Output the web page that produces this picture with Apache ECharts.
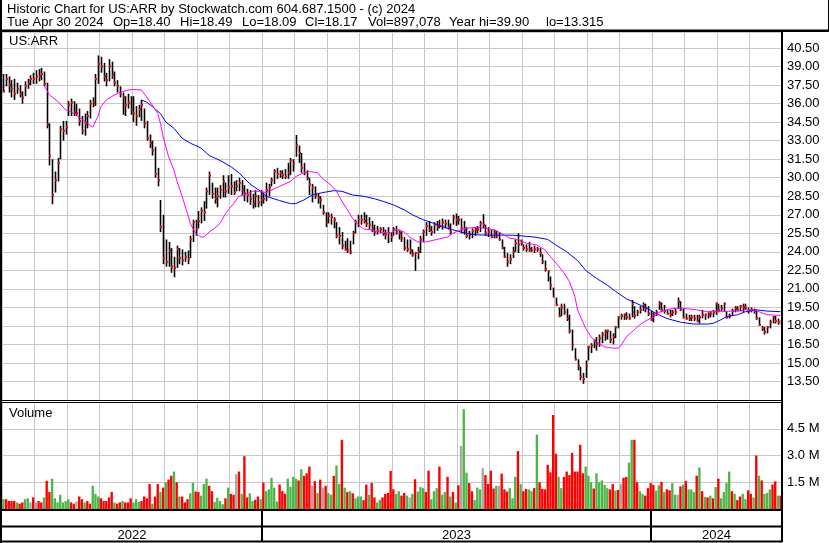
<!DOCTYPE html>
<html>
<head>
<meta charset="utf-8">
<title>US:ARR historic chart</title>
<script src="https://cdn.jsdelivr.net/npm/echarts@6.0.0/dist/echarts.min.js"></script>
<style>
  html, body { margin: 0; padding: 0; background: #fff; }
  #chart { width: 830px; height: 543px; }
</style>
</head>
<body>
<div id="chart"></div>
<script>
// one category per ~2 trading days, 12 per month
const months = ['2022-05','2022-06','2022-07','2022-08','2022-09','2022-10','2022-11','2022-12',
  '2023-01','2023-02','2023-03','2023-04','2023-05','2023-06','2023-07','2023-08','2023-09','2023-10',
  '2023-11','2023-12','2024-01','2024-02','2024-03','2024-04']
const perMonth = 12
const years = ['2022', '2023', '2024']

const high = [
  38.4,38.4,38.2,37.9,38.0,37.7,37.5,37.0,37.8,38.0,38.3,38.5,
  38.7,38.8,38.9,38.6,37.7,34.4,31.5,30.5,31.6,34.2,34.6,34.6,
  36.2,36.4,36.2,36.0,35.6,35.0,35.2,35.4,36.3,36.5,38.4,39.9,
  39.8,39.3,38.5,39.6,39.4,38.6,37.9,37.4,36.9,36.6,36.8,36.6,
  36.6,35.8,35.9,36.3,35.6,34.6,33.5,33.0,32.5,30.8,28.2,27.0,
  25.0,24.8,24.3,23.6,24.5,24.3,24.2,24.0,24.1,25.3,26.6,26.6,
  27.3,27.6,28.1,29.2,30.5,29.6,29.2,29.2,29.4,30.2,29.6,30.2,
  30.3,29.7,29.8,30.0,29.8,29.4,29.1,29.0,28.7,29.0,28.6,29.0,
  28.8,29.6,29.5,30.0,30.7,30.8,30.6,30.6,30.7,31.2,31.6,31.5,
  33.46,32.6,32.0,31.2,30.6,30.0,29.5,29.3,28.7,28.5,27.8,27.2,
  27.2,27.1,26.8,26.4,26.0,25.6,24.9,25.1,24.9,25.7,26.6,27.0,
  27.0,27.2,27.0,26.8,26.5,26.2,26.1,26.0,26.0,25.8,26.0,25.6,
  26.0,26.1,25.8,25.7,25.2,25.0,25.0,24.2,24.0,24.4,25.3,25.8,
  26.4,26.5,26.1,26.4,26.5,26.6,26.7,26.6,26.6,26.3,27.0,27.1,
  26.9,26.7,26.5,26.0,25.7,25.9,26.0,26.1,26.5,27.05,26.2,26.0,
  25.8,25.8,25.7,25.6,25.0,24.4,23.9,23.8,24.4,25.0,25.5,25.0,
  24.6,24.6,24.8,24.4,24.5,24.4,24.3,23.8,23.3,22.5,22.0,21.1,
  20.3,19.5,19.8,19.8,19.4,18.9,17.7,16.2,15.3,14.7,14.2,15.2,
  16.4,16.6,16.9,17.1,17.3,17.5,17.7,17.7,17.6,17.4,18.0,18.8,
  19.0,19.0,19.1,19.0,20.1,19.6,19.3,19.6,19.9,19.8,19.6,19.2,
  19.1,19.3,20.0,19.9,19.7,19.3,19.3,19.3,19.4,20.3,20.0,19.4,
  19.0,18.9,18.9,18.9,18.9,18.9,19.3,19.0,19.1,19.2,19.3,19.9,
  19.8,19.7,19.9,19.2,19.0,19.4,19.6,19.6,19.7,19.8,19.8,19.5,
  19.5,19.4,19.3,18.7,18.0,17.9,18.0,18.5,18.8,18.8,18.6,18.49
]
const low = [
  36.9,37.4,36.9,36.5,36.3,36.8,36.5,36.0,36.6,37.2,37.5,37.6,
  37.6,37.8,37.9,37.4,34.0,31.0,27.85,28.8,29.7,31.5,33.0,33.5,
  35.0,35.0,35.0,35.0,34.2,33.5,33.4,34.0,34.8,35.7,35.8,37.6,
  38.5,37.8,37.4,37.8,38.0,37.4,36.9,36.5,35.1,35.0,35.6,35.1,
  34.5,34.2,34.9,34.6,34.0,33.0,32.4,31.8,30.0,29.3,25.6,23.0,
  22.8,22.8,22.3,21.94,22.7,23.0,22.9,23.2,23.0,23.5,24.8,25.3,
  25.9,26.3,26.5,27.5,28.6,28.3,27.9,27.6,28.3,28.4,28.4,28.7,
  28.6,28.6,28.9,28.9,28.6,28.1,28.0,27.8,27.5,27.6,27.6,27.7,
  27.9,28.1,28.5,29.3,29.5,29.9,30.0,29.9,29.9,29.9,30.2,30.5,
  31.7,31.2,30.4,30.2,29.8,28.6,28.0,28.3,27.9,27.5,27.0,26.0,
  26.3,26.2,25.9,25.1,24.6,24.2,24.1,23.9,23.8,24.6,25.5,26.0,
  26.2,26.3,26.0,25.8,25.6,25.3,25.4,25.5,25.3,25.0,24.7,24.8,
  25.3,25.4,25.0,24.8,24.1,24.0,23.8,23.6,22.46,23.4,23.9,24.8,
  25.3,25.6,25.3,25.5,25.7,25.9,25.8,25.9,25.8,25.4,26.2,26.1,
  26.2,25.5,25.4,25.1,25.0,25.1,25.3,25.5,25.6,25.9,25.3,25.2,
  25.1,25.1,25.1,24.9,24.2,23.5,22.8,23.0,23.5,24.0,23.9,24.5,
  24.1,24.0,24.0,24.0,23.9,24.0,23.6,23.0,22.4,21.6,20.9,20.3,
  19.6,18.7,18.8,18.9,18.4,17.4,16.0,15.2,14.4,13.6,13.315,13.8,
  15.2,15.8,16.2,16.0,16.3,16.6,16.8,16.9,16.6,16.5,17.0,17.8,
  18.5,18.5,18.5,18.5,18.7,18.6,18.8,19.0,19.2,19.1,18.8,18.4,
  18.3,18.8,19.3,19.1,19.0,18.9,18.7,18.8,18.9,19.4,19.2,18.6,
  18.5,18.4,18.4,18.4,18.3,18.2,18.6,18.5,18.6,18.7,18.7,18.9,
  19.1,19.2,19.2,18.6,18.6,18.8,19.1,19.2,19.2,19.1,19.3,19.0,
  19.1,19.0,18.5,18.0,17.6,17.3,17.4,17.8,18.2,18.2,18.1,18.09
]
const close = [
  37.0,38.0,37.5,37.2,36.8,37.2,36.8,36.5,37.4,37.6,38.0,38.0,
  38.2,38.2,38.4,37.6,34.3,31.8,28.6,29.8,31.2,33.9,33.8,34.1,
  35.9,36.1,35.3,35.2,34.6,33.8,34.4,35.0,36.0,36.1,38.0,39.2,
  39.0,38.2,37.9,39.0,38.3,37.7,37.4,36.8,36.5,35.9,36.1,35.5,
  35.2,35.0,35.5,35.9,34.4,33.2,32.8,32.2,30.3,29.8,26.0,23.5,
  23.2,24.1,22.8,22.7,24.2,23.5,23.3,23.6,23.4,25.0,26.4,25.8,
  26.5,27.3,27.2,28.9,30.2,28.7,28.3,28.5,29.0,29.7,28.9,29.2,
  29.3,28.8,29.3,29.6,29.0,28.7,28.6,28.3,27.9,28.5,28.0,28.2,
  28.3,29.0,29.2,29.8,30.5,30.3,30.4,30.2,30.1,30.4,31.4,31.1,
  32.6,32.0,30.8,30.4,30.0,29.5,29.2,28.6,28.4,28.2,27.2,26.4,
  26.9,26.8,26.6,25.3,25.3,24.5,24.2,24.1,24.0,25.5,26.4,26.6,
  26.6,26.5,26.3,26.2,25.9,25.6,25.7,25.8,25.5,25.4,25.5,25.2,
  25.8,25.6,25.5,25.1,24.3,24.2,24.1,23.8,23.9,24.0,25.0,25.6,
  26.1,25.8,25.6,26.2,26.0,26.1,26.4,26.3,26.0,25.6,26.8,26.6,
  26.6,25.9,25.8,25.3,25.4,25.7,25.8,25.8,26.3,26.2,25.5,25.6,
  25.2,25.5,25.3,25.0,24.3,23.6,23.2,23.4,24.0,24.7,24.6,24.7,
  24.3,24.2,24.2,24.1,24.2,24.2,23.9,23.2,22.6,22.4,21.3,20.4,
  19.7,18.8,19.5,19.1,18.6,17.6,16.5,15.3,14.8,13.9,13.7,14.8,
  16.3,16.4,16.8,16.5,17.0,17.3,17.5,17.6,16.9,17.1,17.9,18.7,
  18.8,18.9,18.7,18.6,19.8,18.8,19.1,19.3,19.7,19.4,19.0,18.5,
  18.9,19.1,19.8,19.3,19.2,19.0,18.9,19.1,19.1,20.0,19.3,18.7,
  18.6,18.6,18.7,18.6,18.4,18.7,18.9,18.9,18.9,19.0,19.1,19.8,
  19.3,19.4,19.8,18.7,18.8,19.2,19.4,19.3,19.6,19.5,19.5,19.2,
  19.3,19.2,18.6,18.1,17.8,17.5,17.9,18.3,18.7,18.4,18.3,18.17
]

// volume in millions, u = up day (green), d = down day (red), n = unchanged (grey)
const volume = [
  0.55,0.55,0.45,0.45,0.45,0.37,0.3,0.37,0.55,0.6,0.37,0.65,
  0.37,0.45,0.37,0.65,1.58,0.95,1.7,0.6,0.37,0.8,0.37,0.45,
  0.55,0.37,0.3,0.42,0.7,0.55,0.37,0.45,0.3,1.3,0.85,0.7,
  0.6,0.45,0.45,0.65,0.95,0.37,0.3,0.37,0.45,0.37,0.37,0.6,
  0.37,0.55,0.4,0.45,0.7,0.6,1.4,0.3,0.7,1.4,0.95,1.2,
  1.5,1.65,1.86,2.1,1.5,0.7,0.7,0.37,0.55,0.88,1.46,0.98,
  0.95,0.75,1.4,1.7,1.3,1.0,0.4,0.63,0.45,0.27,0.6,1.2,
  0.85,0.8,1.95,2.1,0.85,2.96,0.65,0.88,0.45,0.52,0.7,0.55,
  1.48,1.0,1.1,1.75,1.2,0.42,1.37,1.0,0.85,1.7,1.25,1.8,
  1.7,1.6,2.23,1.86,2.0,2.38,1.3,1.56,0.9,1.65,1.2,1.3,
  0.9,0.8,1.86,2.44,1.4,3.88,1.2,0.95,1.0,0.88,0.6,0.7,
  0.7,0.5,1.37,0.8,1.46,0.65,0.37,0.52,0.65,0.85,0.9,2.13,
  1.1,0.85,1.0,0.75,0.9,0.75,0.65,0.85,1.67,0.98,1.23,1.17,
  0.95,2.15,0.55,1.0,1.17,2.38,0.8,0.95,1.8,0.7,0.95,0.37,
  1.33,3.54,5.6,2.04,1.45,1.0,0.5,1.2,1.1,2.29,1.9,1.4,
  2.15,1.15,1.3,1.3,1.98,1.1,0.98,1.17,0.6,1.8,3.25,1.4,
  1.0,1.13,1.1,1.0,1.17,4.17,1.5,1.13,1.1,2.48,2.06,5.27,
  3.1,1.8,1.17,1.8,2.1,1.9,3.15,2.1,2.1,3.6,2.0,2.38,
  1.87,1.5,1.15,2.0,1.5,1.6,1.35,1.17,1.1,1.4,1.03,1.07,
  1.4,1.75,1.8,2.6,3.88,3.88,1.5,1.0,0.85,0.75,1.17,1.45,
  1.35,1.03,1.33,1.52,0.95,1.1,1.05,1.45,0.8,0.8,1.27,1.37,
  1.58,1.1,1.1,0.95,1.87,2.33,1.0,0.68,0.65,0.75,0.6,1.23,
  1.7,0.6,0.95,1.47,2.1,1.0,0.85,0.5,0.7,0.85,0.56,1.05,
  0.85,0.65,3.0,1.87,1.6,0.85,0.9,1.1,1.37,1.55,0.75,0.75
]
const volDir = (
  'uddddudduund' + 'nddudduuuuuu' + 'uddnddudduuu' + 'dddddudduddd' +
  'uuuddddudd' + 'ud' + 'uddududdduud' + 'duuudduuuudu' + 'ddndudduuddu' +
  'duuuuuddduuu' + 'ududddndudnd' + 'uuduudududuu' + 'uddudduudddd' +
  'duuddunuduuu' + 'dduuuduududu' + 'dnuudduuundd' + 'ddunddduuudu' +
  'dduududddddd' + 'duuddddddddu' + 'uuduuuuuddud' + 'ndduudduuddd' +
  'duududduundu' + 'duuududududu' + 'duuuududduud' + 'dududuuuddud'
).split('')

// moving averages: [bar index, value]
const maShort = [
  [15,37.5],[17,36.7],[20,36.2],[23,35.5],[25,35.35],[28,34.9],[31,34.4],[33,34.1],[35,35.0],[36,35.75],
  [38,36.3],[41,36.7],[43,36.9],[46,37.1],[48,37.15],[51,37.1],[52,36.8],[54,36.2],[57,35.2],[58,34.4],
  [59,33.3],[60,32.5],[61,31.7],[63,30.6],[64,29.8],[66,28.5],[68,27.1],[69,26.3],[71,25.5],[73,25.2],
  [74,25.2],[76,25.6],[78,25.9],[80,26.3],[82,27.1],[85,27.9],[87,28.5],[90,28.7],[92,28.9],[95,28.9],
  [97,28.8],[100,29.1],[102,29.3],[106,29.7],[108,30.1],[111,30.4],[113,30.5],[116,30.4],[118,29.9],[121,29.4],
  [123,28.9],[125,28.1],[127,27.4],[129,26.7],[131,26.2],[133,25.85],[135,25.8],[139,25.6],[143,25.5],[145,25.8],
  [148,25.6],[150,25.2],[153,24.8],[156,24.8],[160,25.0],[164,25.2],[166,25.5],[169,25.8],[171,25.9],[175,26.0],
  [178,25.9],[181,25.8],[183,25.6],[187,25.1],[190,25.0],[193,24.7],[197,24.55],[200,24.15],[202,23.6],[204,23.1],
  [207,22.3],[209,21.6],[211,20.4],[212,19.3],[214,18.3],[215,17.8],[217,17.1],[219,16.7],[222,16.3],[225,16.2],
  [227,16.2],[228,16.4],[230,17.1],[233,17.7],[235,18.1],[238,18.5],[240,18.7],[242,19.1],[245,19.3],[247,19.4],
  [250,19.45],[252,19.4],[256,19.3],[260,19.15],[262,19.2],[265,19.15],[269,19.2],[272,19.2],[274,19.3],[277,19.3],
  [279,19.15],[282,18.9],[284,18.88],[287,18.85]
]
const maLong = [
  [51,36.3],[53,36.1],[55,35.75],[58,35.2],[60,34.5],[63,34.0],[66,33.2],[69,32.8],[73,32.4],[76,31.8],
  [80,31.4],[84,30.9],[87,30.4],[91,29.5],[95,28.9],[97,28.5],[102,28.15],[106,27.9],[108,27.9],[111,28.2],
  [114,28.6],[118,28.8],[122,28.95],[125,28.9],[129,28.6],[133,28.5],[137,28.3],[140,28.1],[144,27.8],[148,27.4],
  [151,27.0],[155,26.6],[159,26.3],[164,25.9],[169,25.6],[173,25.4],[178,25.35],[183,25.35],[188,25.35],[196,25.2],
  [201,25.0],[204,24.55],[208,24.0],[212,23.3],[215,22.5],[219,21.85],[223,21.3],[226,20.8],[230,20.2],[234,19.8],
  [238,19.4],[241,19.0],[245,18.6],[250,18.3],[255,18.15],[260,18.15],[262,18.2],[265,18.5],[267,18.75],[271,18.9],
  [274,19.15],[278,19.3],[282,19.2],[287,19.15]
]

const categories = months.flatMap(m => Array.from({ length: perMonth }, (_, k) => m + '/' + (k + 1)))
const FONT = 'Liberation Sans, Arial, Helvetica, sans-serif'
const GRID = '#c8c8c8'
const volColor = { u: '#4cb748', d: '#ff0000', n: '#a8a8a8' }

const chart = echarts.init(document.getElementById('chart'), null, { renderer: 'canvas' })

const xAxisBase = (gridIndex) => ({
  type: 'category',
  gridIndex,
  data: categories,
  boundaryGap: true,
  axisLine: { show: false },
  axisTick: { show: false },
  axisLabel: { show: false },
  splitLine: { show: true, interval: (i) => i % perMonth === 0, lineStyle: { color: GRID, width: 1 } },
})

// frame lines and header text
const hline = (x1, x2, y, w = 1) => ({ type: 'line', z: 50, shape: { x1, y1: y, x2, y2: y }, style: { stroke: '#000', lineWidth: w } })
const vline = (x, y1, y2, w = 1) => ({ type: 'line', z: 50, shape: { x1: x, y1, x2: x, y2 }, style: { stroke: '#000', lineWidth: w } })
const txt = (x, y, text, align = 'left') => ({
  type: 'text', z: 60, x, y,
  style: { text, fill: '#000', font: '13px ' + FONT, textAlign: align, textVerticalAlign: 'middle' }
})

const header2 = [[7,'Tue Apr 30 2024'],[113,'Op=18.40'],[180,'Hi=18.49'],[242,'Lo=18.09'],
  [305,'Cl=18.17'],[368,'Vol=897,078'],[449,'Year hi=39.90'],[546,'lo=13.315']]

const option = {
  animation: false,
  backgroundColor: '#fff',
  textStyle: { fontFamily: FONT },
  grid: [
    { left: 2, right: 48, top: 32, height: 368 },
    { left: 2, right: 48, top: 402, height: 107 },
  ],
  xAxis: [xAxisBase(0), xAxisBase(1)],
  yAxis: [{
    type: 'value', gridIndex: 0, position: 'right',
    min: 12, max: 41.8, interval: 1.5,
    axisLine: { show: false }, axisTick: { show: false },
    axisLabel: { color: '#000', fontSize: 13, fontFamily: FONT, margin: 5,
      formatter: v => (v < 13 || v > 41) ? '' : v.toFixed(2) },
    splitLine: { lineStyle: { color: GRID, width: 1 } },
  }, {
    type: 'value', gridIndex: 1, position: 'right',
    min: 0, max: 6, interval: 1.5,
    axisLine: { show: false }, axisTick: { show: false },
    axisLabel: { color: '#000', fontSize: 13, fontFamily: FONT, margin: 5,
      formatter: v => (v > 0 && v < 6) ? v.toFixed(1) + ' M' : '' },
    splitLine: { lineStyle: { color: GRID, width: 1 } },
  }],
  series: [{
    name: 'price',
    type: 'custom',
    xAxisIndex: 0, yAxisIndex: 0,
    z: 2,
    encode: { x: 0, y: [1, 2, 3] },
    data: high.map((h, i) => [i, h, low[i], close[i]]),
    renderItem(params, api) {
      const i = api.value(0)
      const top = api.coord([i, api.value(1)])
      const bot = api.coord([i, api.value(2)])
      const cl = api.coord([i, api.value(3)])
      const x = Math.round(top[0]) + 0.5
      return {
        type: 'group',
        children: [
          { type: 'line', shape: { x1: x, y1: top[1], x2: x, y2: bot[1] }, style: { stroke: '#000', lineWidth: 1.6 } },
          { type: 'rect', shape: { x: x - 0.5, y: cl[1] - 1, width: 2, height: 2 }, style: { fill: '#ff0000' } },
        ]
      }
    },
  }, {
    name: 'ma short',
    type: 'line',
    xAxisIndex: 0, yAxisIndex: 0, z: 4,
    data: maShort,
    symbol: 'none',
    lineStyle: { color: '#ff00ff', width: 1 },
  }, {
    name: 'ma long',
    type: 'line',
    xAxisIndex: 0, yAxisIndex: 0, z: 3,
    data: maLong,
    symbol: 'none',
    lineStyle: { color: '#0000ff', width: 1 },
  }, {
    name: 'volume',
    type: 'bar',
    xAxisIndex: 1, yAxisIndex: 1,
    barCategoryGap: '12%',
    data: volume.map((v, i) => ({ value: v, itemStyle: { color: volColor[volDir[i]] } })),
  }],
  graphic: [
    // header box
    vline(1, 0, 543, 2),
    vline(828.5, 0, 31),
    { type: 'rect', z: 50, shape: { x: 0, y: 29.5, width: 829, height: 2.5 }, style: { fill: '#000' } },
    txt(7, 9, 'Historic Chart for US:ARR by Stockwatch.com 604.687.1500 - (c) 2024'),
    ...header2.map(([x, t]) => txt(x, 22.5, t)),
    // plot frame
    vline(782, 31, 542, 2),
    hline(0, 782, 400.5),
    hline(0, 782, 402.5),
    hline(0, 782, 510, 2),
    hline(0, 782, 526.5, 2),
    hline(0, 782, 541.5, 2),
    vline(262, 510, 541, 2),
    vline(651, 510, 541, 2),
    txt(9, 41, 'US:ARR'),
    txt(9, 413, 'Volume'),
    txt(132, 535, years[0], 'center'),
    txt(456.5, 535, years[1], 'center'),
    txt(716.5, 535, years[2], 'center'),
  ],
}

chart.setOption(option)
</script>
</body>
</html>
